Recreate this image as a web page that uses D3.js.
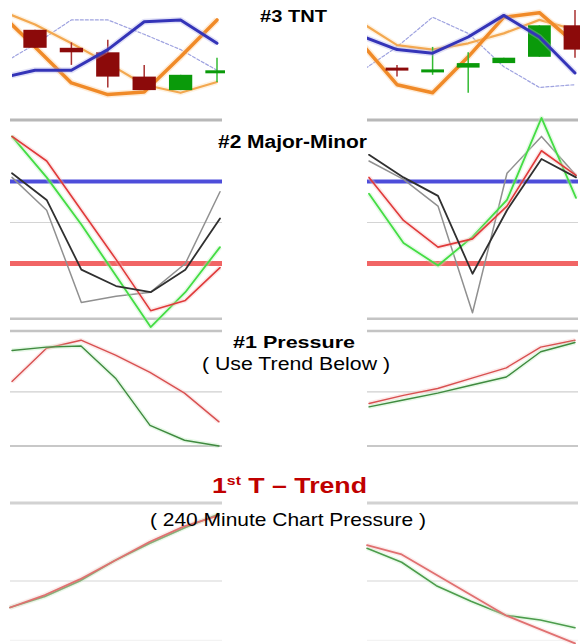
<!DOCTYPE html>
<html><head><meta charset="utf-8">
<script src="https://cdn.jsdelivr.net/npm/d3@7"></script>
<style>body{margin:0;background:#fff}svg{display:block}</style>
</head><body><svg id="c" width="580" height="644"></svg>
<script>
// ---------- DATA ----------
const tntIndex = [-1, 0, 1, 2, 3, 4, 5];
const candleIndex = [0, 1, 2, 3, 4, 5];
// TNT left
const tntL_blue = [24, 33, 33, 56, 87, 89, 63];
const tntL_dash = [38, 62, 89, 89, 73, 56, 33];
const tntL_orange = [98, 59, 19, 6, 9, 48, 89];
const tntL_orangeLight = [100, 84, 63, 41, 17, 8, 20];
const tntL_open = [78, 58, 53, 26, 11, 30];
const tntL_close = [58, 53, 26, 11, 28, 33];
const tntL_high = [78, 64, 67, 39, 28, 47];
const tntL_low = [58, 39, 14, 11, 11, 20];
// TNT right
const tntR_blue = [71, 56, 52, 70, 94, 70, 30];
const tntR_dash = [32, 59, 92, 74, 37, 14, 17];
const tntR_orange = [63, 17, 8, 48, 92, 97, 63];
const tntR_orangeLight = [86, 61, 56, 63, 74, 89, 78];
const tntR_open = [36, 32, 36, 41, 48, 83];
const tntR_close = [33, 34, 41, 47, 83, 56];
const tntR_high = [39, 59, 53, 47, 83, 100];
const tntR_low = [26, 28, 8, 41, 48, 47];
// Major-Minor
const mmIndex = [0, 1, 2, 3, 4, 5, 6];
const mmLevels = [70, 30];
const mmL_green = [92, 72, 49, 24, -1, 16, 38];
const mmL_red = [92, 80, 56, 32, 7, 12, 28];
const mmL_black = [74, 61, 27, 19, 16, 27, 52];
const mmL_grey = [72, 56, 11, 14, 16, 30, 65];
const mmR_green = [64, 40, 29, 43, 61, 101, 62];
const mmR_red = [72, 51, 38, 42, 58, 85, 73];
const mmR_black = [83, 72, 63, 25, 56, 81, 72];
const mmR_grey = [80, 71, 58, 6, 74, 92, 73];
// Pressure
const prL_green = [83, 86, 87, 59, 18, 5, 0];
const prL_red = [56, 85, 92, 79, 64, 46, 21];
const prR_red = [37, 44, 50, 59, 68, 86, 92];
const prR_green = [34, 40, 46, 53, 60, 82, 90];
// Trend
const trL_red = [33, 41, 51, 63, 75, 85, 92];
const trL_green = [33, 40, 50, 63, 74, 84, 93];
const trR_red = [73, 67, 54, 41, 28, 19, 10];
const trR_green = [71, 62, 47, 37, 28, 25, 20];
// Titles
const titles = ["#3 TNT", "#2 Major-Minor", "#1 Pressure", "( Use Trend Below )", "( 240 Minute Chart Pressure )"];

// ---------- DRAW ----------
const svg = d3.select("#c");
const defs = svg.append("defs");
const FONT = "'Liberation Sans', Arial, sans-serif";

function clip(id, x0, x1, y0, y1) {
  defs.append("clipPath").attr("id", id).append("rect")
    .attr("x", x0).attr("y", y0).attr("width", x1 - x0).attr("height", y1 - y0);
  return svg.append("g").attr("clip-path", `url(#${id})`);
}
function drawLine(g, xs, ys, idx, vals, color, width, opts = {}) {
  const line = d3.line().x((d, i) => xs(idx[i])).y(d => ys(d));
  if (opts.halo) {
    g.append("path").datum(vals).attr("d", line).attr("fill", "none")
      .attr("stroke", opts.halo).attr("stroke-width", width + 3).attr("stroke-opacity", 0.35)
      .attr("stroke-linejoin", "round");
  }
  g.append("path").datum(vals).attr("d", line).attr("fill", "none")
    .attr("stroke", color).attr("stroke-width", width)
    .attr("stroke-dasharray", opts.dash || null)
    .attr("stroke-opacity", opts.opacity || 1)
    .attr("stroke-linejoin", "round").attr("stroke-linecap", "round");
}
function grid(g, ys, x0, x1, v, color, w) {
  g.append("line").attr("x1", x0).attr("x2", x1).attr("y1", ys(v)).attr("y2", ys(v))
    .attr("stroke", color).attr("stroke-width", w);
}

// TNT panels
function tnt(id, x0, x1, cx0, cx1, blue, dash, orange, orangeL, o, c, h, l) {
  const g = clip(id, x0, x1, 8, 102);
  const xs = d3.scaleLinear().domain([0, 5]).range([cx0, cx1]);
  const ys = d3.scaleLinear().domain([0, 100]).range([100, 10]);
  drawLine(g, xs, ys, tntIndex, dash, "#9fa3e0", 1.2, {dash: "3,2"});
  drawLine(g, xs, ys, tntIndex, orangeL, "#f3a850", 2.2, {halo: "#fbd9a8"});
  drawLine(g, xs, ys, tntIndex, orange, "#f08a28", 3.5, {halo: "#fbc890"});
  const bw = (xs(1) - xs(0)) * 0.64;
  candleIndex.forEach((k, i) => {
    const up = c[i] >= o[i];
    const col = up ? "#0a9a0a" : "#8c0a0a";
    const wick = up ? "#33bb33" : "#a83030";
    g.append("line").attr("x1", xs(k)).attr("x2", xs(k)).attr("y1", ys(h[i])).attr("y2", ys(l[i]))
      .attr("stroke", wick).attr("stroke-width", 1.5);
    const top = ys(Math.max(o[i], c[i])), bot = ys(Math.min(o[i], c[i]));
    g.append("rect").attr("x", xs(k) - bw / 2).attr("y", top).attr("width", bw)
      .attr("height", Math.max(bot - top, 3)).attr("fill", col);
  });
  drawLine(g, xs, ys, tntIndex, blue, "#3434b8", 3, {halo: "#a8a8e8"});
}
tnt("tl", 12, 225, 35, 217, tntL_blue, tntL_dash, tntL_orange, tntL_orangeLight, tntL_open, tntL_close, tntL_high, tntL_low);
tnt("tr", 367, 580, 397, 575, tntR_blue, tntR_dash, tntR_orange, tntR_orangeLight, tntR_open, tntR_close, tntR_high, tntR_low);

// Major-Minor panels
function mm(id, x0, x1, green, red, black, grey) {
  const g = svg.append("g");
  const xs = d3.scaleLinear().domain([0, 6]).range([x0 + 2, x1 - 2]);
  const ys = d3.scaleLinear().domain([0, 100]).range([325, 120]);
  grid(g, ys, x0, x1, 100, "#b8b8b8", 3);
  grid(g, ys, x0, x1, 50, "#d4d4d4", 1.2);
  grid(g, ys, x0, x1, 3, "#c4c4c4", 2.5);
  g.append("line").attr("x1", x0).attr("x2", x1).attr("y1", ys(mmLevels[0])).attr("y2", ys(mmLevels[0]))
    .attr("stroke", "#3a3ad6").attr("stroke-width", 4).attr("stroke-opacity", 0.9);
  g.append("line").attr("x1", x0).attr("x2", x1).attr("y1", ys(mmLevels[1])).attr("y2", ys(mmLevels[1]))
    .attr("stroke", "#ee4a4a").attr("stroke-width", 5).attr("stroke-opacity", 0.85);
  drawLine(g, xs, ys, mmIndex, grey, "#909090", 1.5);
  drawLine(g, xs, ys, mmIndex, green, "#44dd44", 1.8, {halo: "#b8f0b8"});
  drawLine(g, xs, ys, mmIndex, red, "#e03a3a", 1.6, {halo: "#f4b8b8"});
  drawLine(g, xs, ys, mmIndex, black, "#303030", 1.8);
}
mm("ml", 10, 222, mmL_green, mmL_red, mmL_black, mmL_grey);
mm("mr", 367, 578, mmR_green, mmR_red, mmR_black, mmR_grey);

// Pressure panels
function pressure(x0, x1, red, green) {
  const g = svg.append("g");
  const xs = d3.scaleLinear().domain([0, 6]).range([x0 + 2, x1 - 3]);
  const ys = d3.scaleLinear().domain([0, 100]).range([446, 331]);
  grid(g, ys, x0, x1, 100, "#c4c4c4", 2.5);
  grid(g, ys, x0, x1, 47, "#cfcfcf", 1.2);
  grid(g, ys, x0, x1, 0, "#c8c8c8", 2);
  drawLine(g, xs, ys, mmIndex, red, "#d85050", 1.4, {halo: "#f6c0c0"});
  drawLine(g, xs, ys, mmIndex, green, "#3f8a3f", 1.4, {halo: "#b8ecb8"});
}
pressure(10, 222, prL_red, prL_green);
pressure(367, 578, prR_red, prR_green);

// Trend panels
function trend(x0, x1, red, green) {
  const g = svg.append("g");
  const xs = d3.scaleLinear().domain([0, 6]).range([x0, x1 - 3]);
  const ys = d3.scaleLinear().domain([0, 100]).range([659, 503]);
  grid(g, ys, x0, x1, 100, "#d2d2d2", 3);
  grid(g, ys, x0, x1, 50, "#d6d6d6", 1.2);
  grid(g, ys, x0, x1, 12, "#f0f0f0", 1);
  drawLine(g, xs, ys, mmIndex, green, "#4c9c4c", 1.6, {halo: "#c4eec4"});
  drawLine(g, xs, ys, mmIndex, red, "#e07070", 1.8, {halo: "#f6caca"});
}
trend(10, 222, trL_red, trL_green);
trend(367, 578, trR_red, trR_green);

// Titles
function title(txt, cx, y, size, weight, len, color) {
  svg.append("text").attr("x", cx).attr("y", y).attr("text-anchor", "middle")
    .attr("font-family", FONT).attr("font-size", size).attr("font-weight", weight)
    .attr("fill", color || "#000").attr("textLength", len).attr("lengthAdjust", "spacingAndGlyphs")
    .text(txt);
}
title(titles[0], 293.5, 22, 17, "bold", 67);
title(titles[1], 292.5, 148, 18, "bold", 149);
title(titles[2], 294, 348, 17, "bold", 122);
title(titles[3], 296, 370, 18, "normal", 188);
title(titles[4], 288, 526, 19, "normal", 276);
// 1st T – Trend
const t = svg.append("text").attr("x", 289.5).attr("y", 493).attr("text-anchor", "middle")
  .attr("font-family", FONT).attr("font-size", 22).attr("font-weight", "bold").attr("fill", "#c00000")
  .attr("textLength", 155).attr("lengthAdjust", "spacingAndGlyphs");
t.append("tspan").text("1");
t.append("tspan").attr("font-size", 13).attr("dy", -8).text("st");
t.append("tspan").attr("dy", 8).text(" T – Trend");
</script></body></html>
